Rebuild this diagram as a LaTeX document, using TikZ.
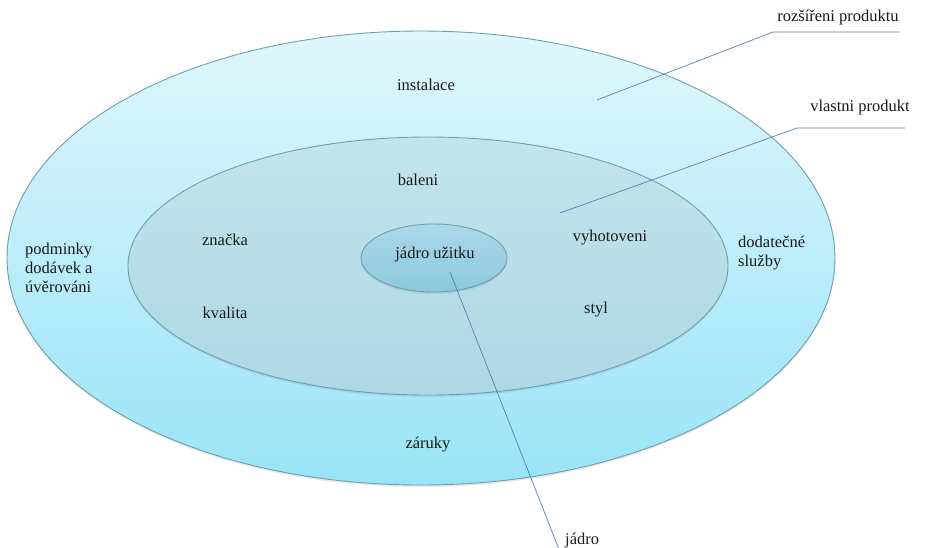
\documentclass[tikz,border=0pt]{standalone}
\usepackage{fontspec}
\setmainfont{Liberation Serif}
\newfontfamily\tnr{Liberation Serif}
\usetikzlibrary{shadows}
\definecolor{outerTop}{RGB}{224,246,252}
\definecolor{outerBot}{RGB}{152,228,247}
\definecolor{midTop}{RGB}{196,228,236}
\definecolor{midBot}{RGB}{172,216,228}
\definecolor{innTop}{RGB}{170,216,232}
\definecolor{innBot}{RGB}{140,200,222}
\definecolor{rim}{RGB}{110,160,172}
\definecolor{leader}{RGB}{95,125,180}
\definecolor{txt}{RGB}{25,25,25}
\begin{document}
\begin{tikzpicture}[x=1pt,y=-1pt,
  lbl/.style={text=txt,font=\tnr\fontsize{16.5}{19}\selectfont,inner sep=0pt},
  lblL/.style={lbl,align=left,anchor=west},
  ring/.style={draw=rim,line width=0.9pt},
  lead/.style={draw=leader,line width=0.7pt},
  shad/.style={drop shadow={shadow xshift=0pt,shadow yshift=-2pt,opacity=0.15,fill=black!60}}]
\useasboundingbox (0,0) rectangle (926,547);
\begin{scope}
\clip (0,0) rectangle (926,547);
% outer ellipse
\path[ring,shad,top color=outerTop,bottom color=outerBot] (421,258) ellipse [x radius=414,y radius=227];
% middle ellipse
\path[ring,shad,top color=midTop,bottom color=midBot] (428,266) ellipse [x radius=300,y radius=129];
% inner ellipse
\path[ring,shad,top color=innTop,bottom color=innBot] (434,258) ellipse [x radius=73,y radius=34];

\node[lbl] (inst) at (426,85) {instalace};
\node[lbl] (bal) at (418,180) {baleni};
\node[lbl] (zn) at (225,240) {značka};
\node[lbl] (kv) at (225,313) {kvalita};
\node[lbl] (vyh) at (610,238) {vyhotoveni};
\node[lbl] (styl) at (596,310) {styl};
\node[lbl] (core) at (435,255) {jádro užitku};
\node[lbl] (zar) at (428,445) {záruky};
\node[lblL] (podm) at (25,268) {podminky\\dodávek a\\úvěrováni};
\node[lblL] (dod) at (738,253) {dodatečné\\služby};
\node[lbl] (rozs) at (838,18) {rozšířeni produktu};
\node[lbl] (vlas) at (860,108) {vlastni produkt};
\node[lbl,anchor=west] (jad) at (565,541) {jádro};

\coordinate (r0) at (597,100);
\coordinate (r1) at (773,32);
\coordinate (r2) at (900,32);
\coordinate (v0) at (560,213);
\coordinate (v1) at (797,128);
\coordinate (v2) at (905,128);
\coordinate (j0) at (450,272);
\coordinate (j1) at (560,552);
\draw[lead] (r0) -- (r1) -- (r2);
\draw[lead] (v0) -- (v1) -- (v2);
\draw[lead] (j0) -- (j1);
\end{scope}
\end{tikzpicture}
\end{document}
